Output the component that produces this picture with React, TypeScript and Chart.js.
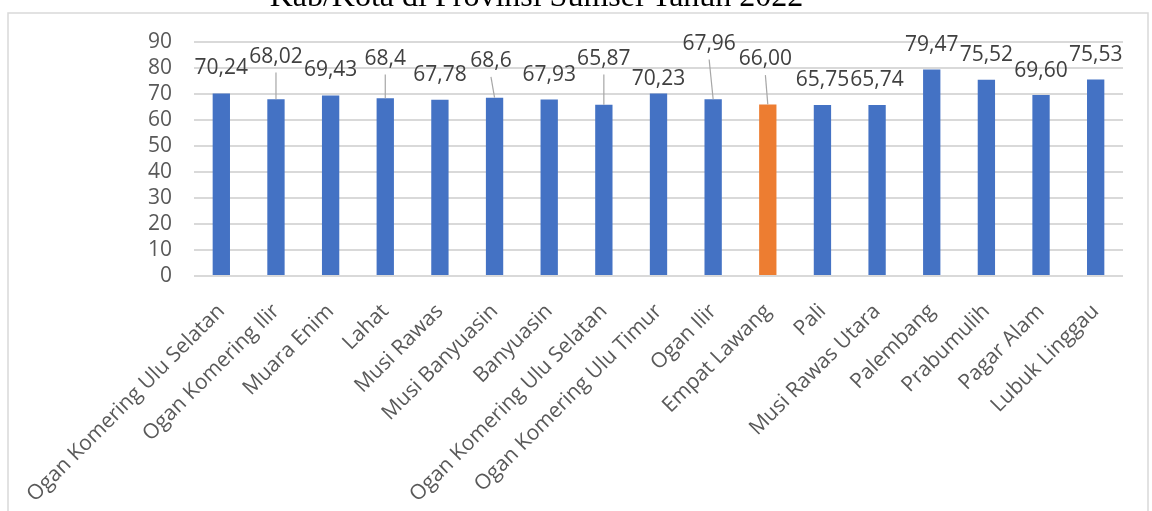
import React, { useEffect, useRef } from "react";
import { Chart, registerables } from "chart.js";

Chart.register(...registerables);

const titleText = "Kab/Kota di Provinsi Sumsel Tahun 2022";

const categories = [
  "Ogan Komering Ulu Selatan",
  "Ogan Komering Ilir",
  "Muara Enim",
  "Lahat",
  "Musi Rawas",
  "Musi Banyuasin",
  "Banyuasin",
  "Ogan Komering Ulu Selatan",
  "Ogan Komering Ulu Timur",
  "Ogan Ilir",
  "Empat Lawang",
  "Pali",
  "Musi Rawas Utara",
  "Palembang",
  "Prabumulih",
  "Pagar Alam",
  "Lubuk Linggau",
];

const values = [
  70.24, 68.02, 69.43, 68.4, 67.78, 68.6, 67.93, 65.87, 70.23, 67.96, 66.0,
  65.75, 65.74, 79.47, 75.52, 69.6, 75.53,
];

const valueLabels = [
  "70,24", "68,02", "69,43", "68,4", "67,78", "68,6", "67,93", "65,87",
  "70,23", "67,96", "66,00", "65,75", "65,74", "79,47", "75,52", "69,60",
  "75,53",
];

const highlightIndex = 10;

const yMin = 0;
const yMax = 90;
const yTickValues = [0, 10, 20, 30, 40, 50, 60, 70, 80, 90];

// data-label placement (style): label centre on the value axis, small x shift, leader line flag
const labelCenterValue = [
  80.2, 84.8, 79.6, 84.0, 77.7, 83.1, 77.7, 84.0, 76.3, 89.8, 83.8, 75.8,
  75.8, 89.2, 85.4, 79.2, 85.4,
];
const labelShiftX = [0, 0, 0, 0, 0, -3.6, 0, 0, 0, -4, -2.4, 0, 0, 0, 0, 0, 0];
const leaderLines = [
  false, true, false, true, false, true, false, true, false, true, true,
  false, false, false, false, false, false,
];

const BLUE = "#4472C4";
const ORANGE = "#ED7D31";

const W = 1152;
const H = 511;

export default function App() {
  const ref = useRef<HTMLCanvasElement | null>(null);

  useEffect(() => {
    const canvas = ref.current;
    if (!canvas) return;

    const framePlugin = {
      id: "frameAndTitle",
      beforeDraw(chart: any) {
        const ctx = chart.ctx;
        ctx.save();
        ctx.fillStyle = "#ffffff";
        ctx.fillRect(0, 0, W, H);
        ctx.strokeStyle = "#d9d9d9";
        ctx.lineWidth = 1.5;
        ctx.strokeRect(8, 13, 1140, 600);
        ctx.restore();
      },
      afterDraw(chart: any) {
        const ctx = chart.ctx;
        ctx.save();
        ctx.fillStyle = "#000000";
        ctx.font = "32px 'Liberation Serif', 'Times New Roman', serif";
        ctx.textAlign = "center";
        ctx.textBaseline = "alphabetic";
        ctx.fillText(titleText, 536.5, 6);
        ctx.restore();
      },
    };

    const labelPlugin = {
      id: "dataLabels",
      afterDatasetsDraw(chart: any) {
        const ctx = chart.ctx;
        const meta = chart.getDatasetMeta(0);
        const yScale = chart.scales.y;
        ctx.save();
        ctx.font = "21px 'Open Sans'";
        ctx.fillStyle = "#404040";
        ctx.textAlign = "center";
        ctx.textBaseline = "middle";
        meta.data.forEach((bar: any, i: number) => {
          const lx = bar.x + labelShiftX[i];
          const ly = yScale.getPixelForValue(labelCenterValue[i]);
          if (leaderLines[i]) {
            ctx.strokeStyle = "#a6a6a6";
            ctx.lineWidth = 1.2;
            ctx.beginPath();
            ctx.moveTo(lx, ly + 17);
            ctx.lineTo(bar.x, bar.y);
            ctx.stroke();
          }
          ctx.fillText(valueLabels[i], lx, ly + 1);
        });
        ctx.restore();
      },
    };

    const chart = new Chart(canvas, {
      type: "bar",
      data: {
        labels: categories,
        datasets: [
          {
            data: values,
            backgroundColor: values.map((_, i) =>
              i === highlightIndex ? ORANGE : BLUE
            ),
            borderWidth: 0,
            barPercentage: 0.317,
            categoryPercentage: 1,
          },
        ],
      },
      options: {
        animation: false,
        responsive: false,
        devicePixelRatio: 1,
        layout: { padding: { left: 0, top: 42, right: 29, bottom: 0 } },
        plugins: {
          legend: { display: false },
          tooltip: { enabled: false },
          title: { display: false },
        },
        scales: {
          x: {
            grid: { display: false },
            border: { display: false },
            ticks: {
              autoSkip: false,
              maxRotation: 45,
              minRotation: 45,
              padding: 15,
              color: "#595959",
              font: { family: "'Open Sans'", size: 21 },
            },
            afterFit(scale: any) {
              scale.height = 235;
              scale.paddingLeft = 0;
              scale.paddingRight = 0;
            },
          },
          y: {
            min: yMin,
            max: yMax,
            afterBuildTicks(scale: any) {
              scale.ticks = yTickValues.map((v) => ({ value: v }));
            },
            ticks: {
              autoSkip: false,
              padding: 22,
              color: "#595959",
              font: { family: "'Open Sans'", size: 21, lineHeight: 1 },
            },
            grid: {
              color: "#d9d9d9",
              lineWidth: 2,
              drawTicks: false,
            },
            border: { display: false },
            afterFit(scale: any) {
              scale.width = 194;
              scale.paddingTop = 0;
              scale.paddingBottom = 0;
            },
          },
        },
      },
      plugins: [framePlugin, labelPlugin],
    });

    return () => chart.destroy();
  }, []);

  return (
    <div
      style={{
        position: "fixed",
        left: 0,
        top: 0,
        width: W,
        height: H,
        background: "#ffffff",
      }}
    >
      <canvas
        ref={ref}
        width={W}
        height={H}
        style={{ display: "block", width: W, height: H }}
      />
    </div>
  );
}
